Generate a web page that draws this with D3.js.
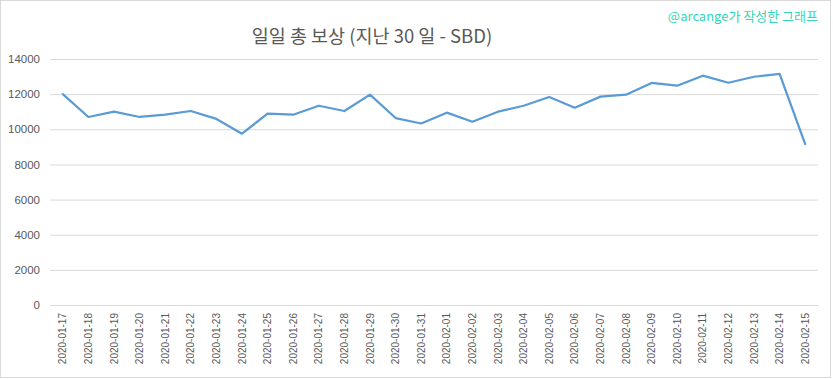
<!DOCTYPE html>
<html><head><meta charset="utf-8">
<script src="https://cdn.jsdelivr.net/npm/d3@7/dist/d3.min.js"></script>
<style>body{margin:0;background:#fff}svg{display:block}</style>
</head><body><svg id="c" width="833" height="379"></svg>
<script>
const dates = ["2020-01-17","2020-01-18","2020-01-19","2020-01-20","2020-01-21","2020-01-22","2020-01-23","2020-01-24","2020-01-25","2020-01-26","2020-01-27","2020-01-28","2020-01-29","2020-01-30","2020-01-31","2020-02-01","2020-02-02","2020-02-03","2020-02-04","2020-02-05","2020-02-06","2020-02-07","2020-02-08","2020-02-09","2020-02-10","2020-02-11","2020-02-12","2020-02-13","2020-02-14","2020-02-15"];
const rewards = [12000,10700,11000,10700,10830,11040,10590,9750,10890,10830,11340,11040,11970,10640,10330,10945,10430,11000,11340,11840,11230,11860,11970,12635,12480,13050,12650,12990,13150,9160];
const yTicks = [0,2000,4000,6000,8000,10000,12000,14000];
const title = "일일 총 보상 (지난 30 일 - SBD)";
const watermark = "@arcange가 작성한 그래프";

const svg = d3.select("#c");
svg.append("rect").attr("x",0.5).attr("y",0.5).attr("width",830).attr("height",377)
  .attr("fill","#fff").attr("stroke","#d9d9d9");

const L=50, R=818, T=59, B=305;
const x = d3.scaleBand().domain(dates).range([L,R]);
const y = d3.scaleLinear().domain([0,14000]).range([B,T]);

const yAxis = svg.append("g").attr("transform",`translate(${L},0)`)
  .call(d3.axisLeft(y).tickValues(yTicks).tickSize(-(R-L)).tickPadding(10).tickFormat(d3.format("d")));
yAxis.select(".domain").remove();
yAxis.selectAll("line").attr("stroke","#d9d9d9");
yAxis.selectAll("text").attr("fill","#595959").style("font-family","'Liberation Sans',Arial,sans-serif").style("font-size","11.5px");

const xAxis = svg.append("g").attr("transform",`translate(0,${B})`)
  .call(d3.axisBottom(x).tickSize(0).tickPadding(0));
xAxis.select(".domain").attr("stroke","#d9d9d9");
xAxis.selectAll("text").attr("fill","#595959").style("font-family","'Liberation Sans',Arial,sans-serif").style("font-size","10px")
  .attr("transform","rotate(-90)").attr("text-anchor","end").attr("x",-8).attr("y",0).attr("dy","0.35em");

const line = d3.line().x((d,i)=>x(dates[i])+x.bandwidth()/2).y(d=>y(d));
svg.append("path").datum(rewards).attr("d",line).attr("fill","none")
  .attr("stroke","#5b9bd5").attr("stroke-width",2.25).attr("stroke-linejoin","round").attr("stroke-linecap","round");

svg.append("text").attr("x",372).attr("y",43).attr("text-anchor","middle")
  .style("font-family","'Noto Sans CJK KR','Noto Sans',sans-serif").style("font-size","18.5px").attr("fill","#595959").text(title);

svg.append("text").attr("x",818).attr("y",21).attr("text-anchor","end")
  .style("font-family","'Noto Sans CJK KR','Noto Sans',sans-serif").style("font-size","13px").attr("fill","#33d6b5").text(watermark);
</script></body></html>
